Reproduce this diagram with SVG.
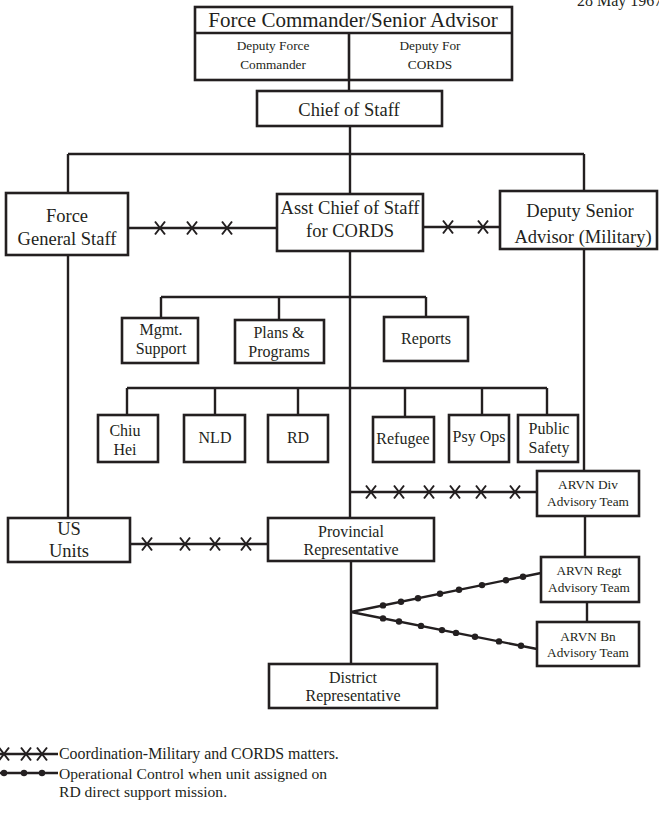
<svg xmlns="http://www.w3.org/2000/svg" width="659" height="818" viewBox="0 0 659 818">
<style>
.box{fill:#fff;stroke:#231f20;stroke-width:2.6}
.ln{fill:none;stroke:#231f20;stroke-width:2.4}
text{font-family:"Liberation Serif","Times New Roman",serif;fill:#231f20;text-anchor:middle}
.t21{font-size:21px}
.t18{font-size:18.5px}
.t16{font-size:16px}
.t13{font-size:13.3px}
.leg{font-size:15.6px;text-anchor:start}
</style>
<defs>
<path id="x" d="M-5,-6.5 L5,6.5 M5,-6.5 L-5,6.5" fill="none" stroke="#231f20" stroke-width="2"/>
<circle id="d" r="3.2" fill="#231f20"/>
</defs>
<rect width="659" height="818" fill="#fff"/>
<text x="577" y="6" style="font-size:16px;text-anchor:start">28 May 1967</text>

<g id="connectors">
<path class="ln" d="M349,80 V91 M350,126 V154 M68,154 H584 M68,154 V193 M350,154 V194 M584,154 V191"/>
<path class="ln" d="M68,256 V518 M350,251 V518 M584,249 V471"/>
<path class="ln" d="M161,297 H426 M161,297 V318 M279,297 V320 M426,297 V317"/>
<path class="ln" d="M127,388 H547 M127,388 V415 M215,388 V415 M298,388 V415 M405,388 V417 M482,388 V415 M547,388 V415"/>
<path class="ln" d="M585,516 V557 M587,602 V622 M351,561 V664"/>
<path class="ln" d="M128,228 H277"/>
<use href="#x" x="160" y="228"/><use href="#x" x="192" y="228"/><use href="#x" x="227" y="228"/>
<path class="ln" d="M423,227 H500"/>
<use href="#x" x="448" y="227"/><use href="#x" x="483" y="227"/>
<path class="ln" d="M350,492 H537"/>
<use href="#x" x="371" y="492"/><use href="#x" x="399" y="492"/><use href="#x" x="429" y="492"/><use href="#x" x="455" y="492"/><use href="#x" x="481" y="492"/><use href="#x" x="515" y="492"/>
<path class="ln" d="M130,544 H268"/>
<use href="#x" x="147" y="544"/><use href="#x" x="185" y="544"/><use href="#x" x="215" y="544"/><use href="#x" x="246" y="544"/>
<path class="ln" d="M351,612 L541,573 M351,612 L537,649"/>
<use href="#d" x="383" y="605.4"/><use href="#d" x="401" y="601.7"/><use href="#d" x="418" y="598.2"/><use href="#d" x="440" y="593.7"/><use href="#d" x="459" y="589.8"/><use href="#d" x="482" y="585.1"/><use href="#d" x="506" y="580.2"/><use href="#d" x="523" y="576.7"/>
<use href="#d" x="383" y="618.4"/><use href="#d" x="399" y="621.5"/><use href="#d" x="421" y="625.9"/><use href="#d" x="442" y="630.1"/><use href="#d" x="456" y="632.9"/><use href="#d" x="475" y="636.7"/><use href="#d" x="499" y="641.4"/><use href="#d" x="521" y="645.8"/>
</g>

<g id="force-commander">
<rect class="box" x="195" y="7" width="317" height="73"/>
<path class="ln" d="M195,33 H513 M349,33 V80" style="stroke-width:2.6"/>
<text class="t21" x="353" y="27">Force Commander/Senior Advisor</text>
<text class="t13" x="273" y="50">Deputy Force</text>
<text class="t13" x="273" y="69">Commander</text>
<text class="t13" x="430" y="50">Deputy  For</text>
<text class="t13" x="430" y="69">CORDS</text>
</g>
<g id="chief-of-staff">
<rect class="box" x="257" y="91" width="185" height="35"/>
<text class="t18" x="349" y="116">Chief of Staff</text>
</g>
<g id="force-general-staff">
<rect class="box" x="6" y="193" width="122" height="62"/>
<text class="t18" x="67" y="222">Force</text>
<text class="t18" x="67" y="245">General Staff</text>
</g>
<g id="asst-chief">
<rect class="box" x="277" y="194" width="146" height="57"/>
<text class="t18" x="350" y="214">Asst Chief of Staff</text>
<text class="t18" x="350" y="237">for CORDS</text>
</g>
<g id="deputy-senior-advisor">
<rect class="box" x="500" y="191" width="157" height="58"/>
<text class="t18" x="580" y="217">Deputy Senior</text>
<text class="t18" x="583" y="243">Advisor (Military)</text>
</g>
<g id="mgmt-support">
<rect class="box" x="122" y="318" width="76" height="45"/>
<text class="t16" x="161" y="335">Mgmt.</text>
<text class="t16" x="161" y="354">Support</text>
</g>
<g id="plans-programs">
<rect class="box" x="235" y="320" width="89" height="43"/>
<text class="t16" x="279" y="338">Plans &amp;</text>
<text class="t16" x="279" y="357">Programs</text>
</g>
<g id="reports">
<rect class="box" x="384" y="317" width="84" height="44"/>
<text class="t16" x="426" y="344">Reports</text>
</g>
<g id="chiu-hei">
<rect class="box" x="98" y="415" width="60" height="47"/>
<text class="t16" x="125" y="436">Chiu</text>
<text class="t16" x="125" y="455">Hei</text>
</g>
<g id="nld">
<rect class="box" x="184" y="415" width="61" height="47"/>
<text class="t16" x="215" y="443">NLD</text>
</g>
<g id="rd">
<rect class="box" x="268" y="415" width="60" height="47"/>
<text class="t16" x="298" y="443">RD</text>
</g>
<g id="refugee">
<rect class="box" x="373" y="417" width="61" height="45"/>
<text class="t16" x="403" y="444">Refugee</text>
</g>
<g id="psy-ops">
<rect class="box" x="449" y="415" width="60" height="47"/>
<text class="t16" x="479" y="442">Psy Ops</text>
</g>
<g id="public-safety">
<rect class="box" x="518" y="415" width="60" height="47"/>
<text class="t16" x="549" y="434">Public</text>
<text class="t16" x="549" y="453">Safety</text>
</g>
<g id="arvn-div">
<rect class="box" x="537" y="471" width="102" height="45"/>
<text class="t13" x="588" y="489">ARVN Div</text>
<text class="t13" x="588" y="506">Advisory Team</text>
</g>
<g id="us-units">
<rect class="box" x="8" y="518" width="122" height="44"/>
<text class="t18" x="69" y="535">US</text>
<text class="t18" x="69" y="557">Units</text>
</g>
<g id="provincial-rep">
<rect class="box" x="268" y="518" width="166" height="43"/>
<text class="t16" x="351" y="537">Provincial</text>
<text class="t16" x="351" y="555">Representative</text>
</g>
<g id="arvn-regt">
<rect class="box" x="541" y="557" width="98" height="45"/>
<text class="t13" x="589" y="575">ARVN Regt</text>
<text class="t13" x="589" y="592">Advisory Team</text>
</g>
<g id="arvn-bn">
<rect class="box" x="537" y="622" width="102" height="44"/>
<text class="t13" x="588" y="641">ARVN Bn</text>
<text class="t13" x="588" y="657">Advisory Team</text>
</g>
<g id="district-rep">
<rect class="box" x="269" y="664" width="168" height="44"/>
<text class="t16" x="353" y="683">District</text>
<text class="t16" x="353" y="701">Representative</text>
</g>

<g id="legend">
<path class="ln" d="M0,754 H58"/>
<use href="#x" x="4" y="754"/><use href="#x" x="26" y="754"/><use href="#x" x="42" y="754"/>
<text class="leg" x="59" y="759" style="font-size:15.9px">Coordination-Military and CORDS matters.</text>
<path class="ln" d="M0,773 H58"/>
<use href="#d" x="4" y="773"/><use href="#d" x="24" y="773"/><use href="#d" x="42" y="773"/>
<text class="leg" x="59" y="779">Operational Control when unit assigned on</text>
<text class="leg" x="59" y="797">RD direct support mission.</text>
</g>
</svg>
